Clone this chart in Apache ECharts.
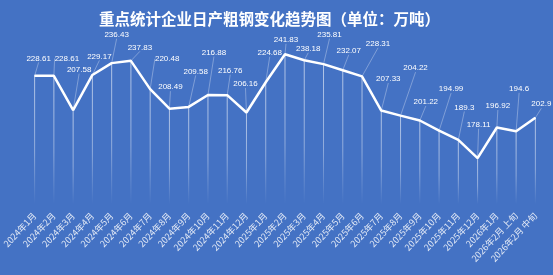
<!DOCTYPE html>
<html>
<head>
<meta charset="utf-8">
<script src="https://cdn.jsdelivr.net/npm/echarts@6/dist/echarts.min.js"></script>
<style>
  html, body { margin: 0; padding: 0; background: #4472c4; }
  #main { width: 553px; height: 275px; }
</style>
</head>
<body>
<div id="main"></div>
<script>
var months = ['2024年1月', '2024年2月', '2024年3月', '2024年4月', '2024年5月', '2024年6月',
  '2024年7月', '2024年8月', '2024年9月', '2024年10月', '2024年11月', '2024年12月',
  '2025年1月', '2025年2月', '2025年3月', '2025年4月', '2025年5月', '2025年6月',
  '2025年7月', '2025年8月', '2025年9月', '2025年10月', '2025年11月', '2025年12月',
  '2026年1月', '2026年2月 上旬', '2026年2月 中旬'];
var output = [228.61, 228.61, 207.58, 229.17, 236.43, 237.83,
  220.48, 208.49, 209.58, 216.88, 216.76, 206.16,
  224.68, 241.83, 238.18, 235.81, 232.07, 228.31,
  207.33, 204.22, 201.22, 194.99, 189.3, 178.11,
  196.92, 194.6, 202.9];

// where the data labels were dragged to, relative to the point (px)
var labelShift = [[4, -19], [13, -19], [6, -42], [7, -20], [5, -30], [9, -15],
  [17, -32], [1, -23], [7, -37], [6, -44], [3, -26], [-1, -30],
  [4, -31], [1, -16], [4, -13], [6, -31], [6, -21], [16, -34],
  [7, -33], [15, -49], [6, -20], [12, -43], [6, -34], [1, -35],
  [1, -23], [3, -44], [6, -15]];

var chart = echarts.init(document.getElementById('main'));

var option = {
  backgroundColor: '#4472c4',
  animation: false,
  title: {
    text: '重点统计企业日产粗钢变化趋势图（单位：万吨）',
    left: 94,
    top: 6,
    textStyle: {
      color: '#fff',
      fontSize: 15.5,
      fontWeight: 'bold',
      fontFamily: 'Noto Sans CJK SC'
    }
  },
  grid: { left: 23, right: 8, top: 41, bottom: 71 },
  xAxis: {
    type: 'category',
    data: months,
    axisLine: { show: false },
    axisTick: { show: false },
    axisLabel: {
      rotate: 47,
      interval: 0,
      margin: 10,
      color: 'rgba(255,255,255,0.85)',
      fontSize: 9,
      fontFamily: 'Noto Sans CJK SC'
    }
  },
  yAxis: {
    type: 'value',
    min: 150,
    max: 250,
    show: false,
    splitLine: { show: false }
  },
  series: [
    {
      name: 'drop',
      type: 'bar',
      barWidth: 1,
      silent: true,
      z: 1,
      itemStyle: {
        color: new echarts.graphic.LinearGradient(0, 0, 0, 1, [
          { offset: 0, color: 'rgba(255,255,255,0.6)' },
          { offset: 0.6, color: 'rgba(255,255,255,0.4)' },
          { offset: 1, color: 'rgba(255,255,255,0)' }
        ])
      },
      data: output
    },
    {
      name: '日产粗钢',
      type: 'line',
      z: 3,
      data: output,
      symbol: 'circle',
      symbolSize: 1,
      showSymbol: true,
      itemStyle: { color: '#fff' },
      lineStyle: { color: '#fff', width: 2.5 },
      label: {
        show: true,
        position: 'top',
        distance: 0,
        color: '#fff',
        fontSize: 8,
        fontFamily: 'Liberation Sans'
      },
      labelLine: {
        show: true,
        lineStyle: { color: 'rgba(255,255,255,0.45)', width: 0.7 }
      },
      labelLayout: function (p) {
        var s = labelShift[p.dataIndex];
        return { dx: s[0], dy: s[1] + 6 };
      }
    }
  ]
};

chart.setOption(option);
</script>
</body>
</html>
